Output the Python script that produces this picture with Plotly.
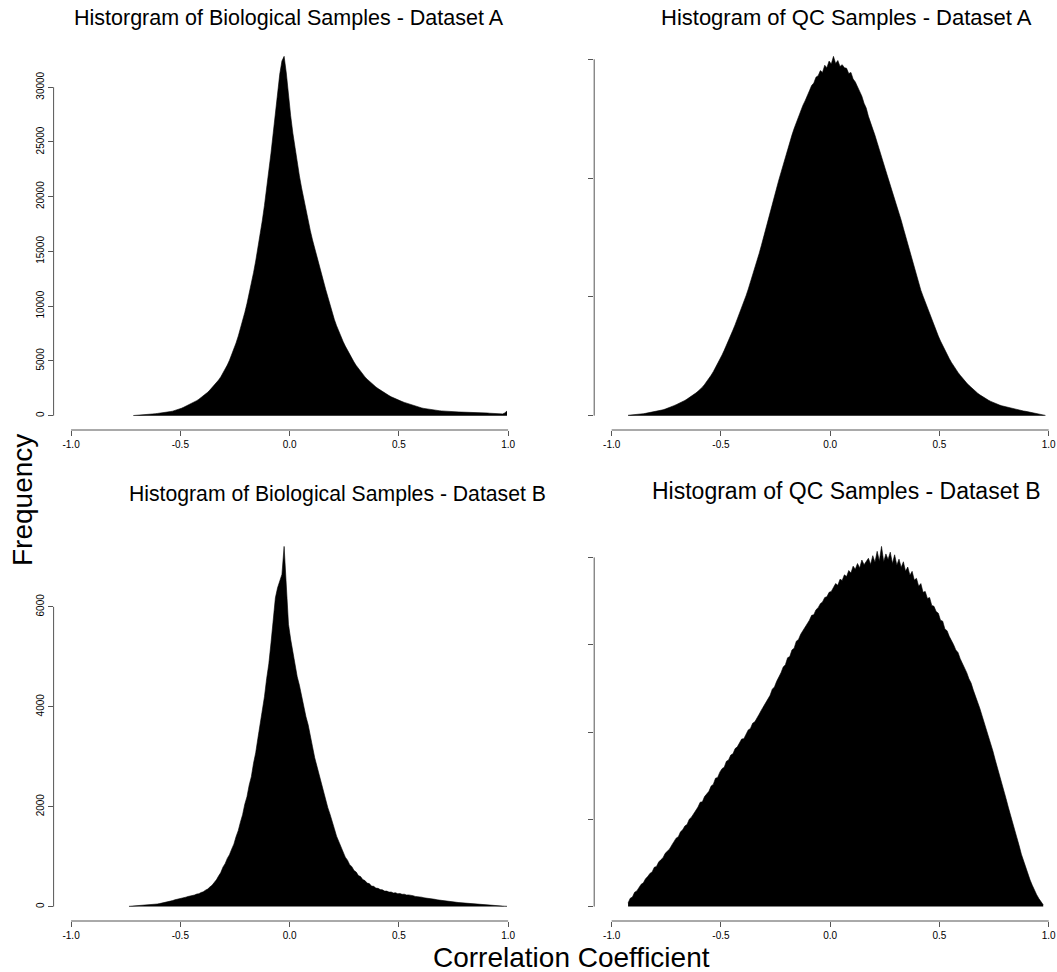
import numpy as np
import plotly.graph_objects as go

# Histogram bin counts (bin width 0.01), one list per panel, with the left edge of the first bin
BIN_WIDTH = 0.01

BIO_A_START = -0.72
BIO_A_COUNTS = [
    10, 20, 30, 40, 50, 60, 80, 100, 120, 140,
    170, 200, 220, 250, 270, 300, 330, 370, 410, 460,
    520, 590, 670, 760, 850, 940, 1040, 1140, 1250, 1370,
    1500, 1640, 1790, 1950, 2130, 2330, 2540, 2760, 2990, 3250,
    3540, 3860, 4220, 4620, 5060, 5540, 6070, 6640, 7260, 7930,
    8650, 9420, 10240, 11120, 12060, 13060, 14130, 15280, 16500, 17800,
    19200, 20700, 22300, 24000, 25800, 27700, 29600, 31200, 32400, 32820,
    31300, 29200, 27400, 25800, 24400, 23100, 21900, 20800, 19750, 18750,
    17800, 16900, 16050, 15250, 14500, 13780, 13050, 12300, 11550, 10800,
    10080, 9400, 8780, 8220, 7700, 7220, 6770, 6350, 5950, 5570,
    5220, 4890, 4580, 4290, 4020, 3770, 3540, 3330, 3130, 2950,
    2780, 2620, 2470, 2330, 2200, 2070, 1950, 1830, 1720, 1620,
    1520, 1430, 1350, 1280, 1210, 1140, 1070, 1000, 930, 860,
    790, 740, 700, 660, 620, 590, 560, 530, 500, 470,
    450, 430, 410, 395, 385, 375, 365, 355, 345, 335,
    325, 320, 315, 310, 305, 300, 310, 320, 320, 300,
    280, 260, 240, 220, 200, 180, 160, 150, 140, 160,
    250, 420,
]

QC_A_START = -0.93
QC_A_COUNTS = [
    3, 4, 6, 8, 10, 12, 14, 16, 19, 22,
    25, 28, 31, 35, 39, 44, 49, 55, 61, 68,
    76, 84, 92, 100, 109, 118, 128, 139, 150, 162,
    175, 190, 205, 220, 240, 262, 286, 312, 340, 370,
    402, 436, 472, 510, 550, 590, 632, 676, 720, 766,
    812, 860, 908, 958, 1010, 1065, 1122, 1180, 1240, 1302,
    1366, 1432, 1498, 1566, 1636, 1706, 1776, 1846, 1916, 1985,
    2052, 2118, 2182, 2244, 2304, 2362, 2418, 2470, 2520, 2566,
    2612, 2650, 2700, 2735, 2780, 2800, 2850, 2862, 2905, 2890,
    2950, 2930, 2985, 2960, 3025, 2965, 2990, 2940, 2955, 2930,
    2925, 2880, 2890, 2835, 2810, 2770, 2730, 2690, 2630, 2590,
    2520, 2470, 2410, 2360, 2300, 2235, 2180, 2115, 2060, 2000,
    1942, 1884, 1826, 1778, 1712, 1645, 1578, 1510, 1442, 1374,
    1306, 1238, 1172, 1106, 1056, 1006, 956, 906, 856, 808,
    760, 714, 670, 628, 588, 550, 514, 480, 448, 418,
    390, 364, 340, 316, 294, 274, 255, 237, 220, 204,
    189, 175, 162, 150, 139, 129, 120, 111, 103, 96,
    89, 83, 78, 73, 68, 63, 58, 54, 50, 46,
    42, 39, 36, 32, 28, 24, 20, 16, 12, 8,
    5, 2,
]

BIO_B_START = -0.74
BIO_B_COUNTS = [
    5, 8, 10, 12, 15, 18, 20, 24, 27, 30,
    34, 40, 46, 52, 60, 68, 78, 88, 98, 110,
    120, 136, 144, 160, 168, 182, 188, 202, 210, 226,
    232, 250, 258, 282, 296, 328, 350, 392, 425, 482,
    535, 612, 680, 790, 860, 965, 1040, 1150, 1250, 1400,
    1520, 1690, 1840, 2050, 2200, 2430, 2600, 2870, 3080, 3370,
    3620, 3950, 4200, 4560, 4860, 5280, 5800, 6180, 6380, 6520,
    6650, 7210, 6350, 5650, 5350, 5080, 4870, 4600, 4430, 4200,
    4030, 3800, 3640, 3390, 3200, 2980, 2810, 2610, 2460, 2280,
    2150, 1980, 1850, 1680, 1560, 1410, 1310, 1180, 1100, 990,
    930, 840, 800, 720, 690, 620, 600, 540, 520, 470,
    460, 410, 405, 370, 365, 340, 335, 310, 310, 290,
    292, 272, 276, 258, 262, 246, 248, 232, 234, 218,
    218, 204, 202, 190, 188, 176, 172, 162, 160, 148,
    146, 136, 132, 124, 120, 112, 108, 100, 96, 90,
    86, 80, 76, 70, 66, 61, 57, 52, 48, 44,
    41, 37, 34, 31, 28, 25, 22, 19, 17, 14,
    12, 10, 8, 6,
]

QC_B_START = -0.93
QC_B_COUNTS = [
    20, 48, 55, 82, 90, 112, 128, 136, 160, 172,
    190, 198, 225, 230, 255, 268, 280, 305, 318, 330,
    352, 370, 392, 400, 428, 440, 462, 470, 500, 512,
    530, 552, 570, 598, 600, 630, 648, 660, 690, 700,
    735, 740, 770, 790, 798, 832, 840, 868, 875, 905,
    915, 935, 960, 962, 990, 1012, 1020, 1050, 1058, 1085,
    1102, 1125, 1145, 1170, 1192, 1210, 1245, 1258, 1290, 1312,
    1340, 1372, 1385, 1425, 1432, 1470, 1480, 1520, 1530, 1560,
    1580, 1598, 1625, 1640, 1668, 1672, 1700, 1712, 1735, 1745,
    1770, 1775, 1800, 1805, 1828, 1850, 1840, 1875, 1868, 1900,
    1890, 1925, 1910, 1950, 1932, 1965, 1940, 1985, 1958, 1975,
    1995, 1960, 2010, 1972, 2035, 1980, 2063, 1975, 2020, 1988,
    2030, 1965, 2015, 1955, 1990, 1942, 1975, 1920, 1945, 1898,
    1920, 1870, 1880, 1835, 1850, 1800, 1805, 1765, 1770, 1725,
    1720, 1690, 1680, 1640, 1635, 1590, 1580, 1548, 1525, 1500,
    1470, 1455, 1420, 1395, 1368, 1340, 1305, 1280, 1240, 1210,
    1170, 1135, 1095, 1060, 1012, 975, 935, 890, 842, 800,
    752, 712, 660, 618, 570, 528, 478, 436, 390, 348,
    300, 262, 222, 188, 152, 122, 92, 68, 46, 28,
    10,
]

TITLES = [
    "Historgram of Biological Samples - Dataset A",
    "Histogram of QC Samples - Dataset A",
    "Histogram of Biological Samples - Dataset B",
    "Histogram of QC Samples - Dataset B",
]
X_TICKS = [-1.0, -0.5, 0.0, 0.5, 1.0]
X_TICK_TEXT = ["-1.0", "-0.5", "0.0", "0.5", "1.0"]
Y_TICKS = [
    [0, 5000, 10000, 15000, 20000, 25000, 30000],
    [0, 1000, 2000, 3000],
    [0, 2000, 4000, 6000],
    [0, 500, 1000, 1500, 2000],
]
Y_LABELS_SHOWN = [True, False, True, False]

W, H = 1057, 972
FONT = "Liberation Sans, Arial, Helvetica, sans-serif"
AXIS_COLOR = "#555555"


def px_x(v):
    return v / W


def px_y(v):
    return (H - v) / H


# plot regions in pixels: (left, right, top, bottom)
UNIT = 218.5
regions = [
    (53.6, 53.6 + 2.16 * UNIT, 42, 430),
    (594.2, W, 42, 430),
    (53.6, 53.6 + 2.16 * UNIT, 532, 921),
    (594.2, W, 532, 921),
]

panels = [
    (BIO_A_START, BIO_A_COUNTS),
    (QC_A_START, QC_A_COUNTS),
    (BIO_B_START, BIO_B_COUNTS),
    (QC_B_START, QC_B_COUNTS),
]

fig = go.Figure()
layout = dict(
    width=W, height=H,
    margin=dict(l=0, r=0, t=0, b=0),
    paper_bgcolor="white", plot_bgcolor="white",
    showlegend=False,
    font=dict(family=FONT, color="black"),
    shapes=[], annotations=[],
)

for i, ((start, counts), (left, right, top, bottom)) in enumerate(zip(panels, regions)):
    n = i + 1
    xa = "x" if n == 1 else f"x{n}"
    ya = "y" if n == 1 else f"y{n}"
    counts = np.asarray(counts, dtype=float)
    centers = start + BIN_WIDTH * (np.arange(len(counts)) + 0.5)
    # filled outline through the bin counts (very fine bins read as a solid silhouette)
    fig.add_trace(go.Scatter(
        x=centers, y=counts, mode="lines", fill="tozeroy",
        fillcolor="black", line=dict(color="black", width=0.6),
        xaxis=xa, yaxis=ya, hoverinfo="skip",
    ))
    ymax = counts.max()
    x_hi = -1.08 + (right - left) / UNIT
    layout["xaxis" if n == 1 else f"xaxis{n}"] = dict(
        domain=[px_x(left), px_x(right)], anchor=ya,
        range=[-1.08, x_hi], showgrid=False, zeroline=False, showline=False,
        tickmode="array", tickvals=X_TICKS, ticktext=X_TICK_TEXT,
        ticks="outside", ticklen=5, tickwidth=1, tickcolor=AXIS_COLOR,
        tickfont=dict(size=10, family=FONT, color="black"),
    )
    layout["yaxis" if n == 1 else f"yaxis{n}"] = dict(
        domain=[px_y(bottom), px_y(top)], anchor=xa,
        range=[-0.04 * ymax, 1.04 * ymax], showgrid=False, zeroline=False,
        showline=False, tickmode="array", tickvals=Y_TICKS[i],
        ticktext=[str(v) for v in Y_TICKS[i]],
        showticklabels=Y_LABELS_SHOWN[i], tickangle=-90,
        ticks="outside", ticklen=5, tickwidth=1, tickcolor=AXIS_COLOR,
        tickfont=dict(size=10, family=FONT, color="black"),
    )
    # axis lines span first to last tick, base-graphics style
    layout["shapes"].append(dict(
        type="line", xref=xa, yref=f"{ya} domain",
        x0=X_TICKS[0], x1=X_TICKS[-1], y0=0, y1=0,
        line=dict(color=AXIS_COLOR, width=1),
    ))
    layout["shapes"].append(dict(
        type="line", xref=f"{xa} domain", yref=ya,
        x0=0, x1=0, y0=Y_TICKS[i][0], y1=Y_TICKS[i][-1],
        line=dict(color=AXIS_COLOR, width=1),
    ))

title_pos = [(289, 18, 21.5), (846, 18, 22), (337, 494, 21.2), (846, 491, 23)]
for text, (cx, cy, size) in zip(TITLES, title_pos):
    layout["annotations"].append(dict(
        text=text, x=px_x(cx), y=px_y(cy), xref="paper", yref="paper",
        xanchor="center", yanchor="middle", showarrow=False,
        font=dict(size=size, family=FONT, color="black"),
    ))

layout["annotations"].append(dict(
    text="Frequency", x=px_x(22), y=px_y(500), xref="paper", yref="paper",
    xanchor="center", yanchor="middle", showarrow=False, textangle=-90,
    font=dict(size=28, family=FONT, color="black"),
))
layout["annotations"].append(dict(
    text="Correlation Coefficient", x=px_x(571), y=px_y(957),
    xref="paper", yref="paper", xanchor="center", yanchor="middle",
    showarrow=False, font=dict(size=28, family=FONT, color="black"),
))

fig.update_layout(**layout)
fig.write_html("out.html")
